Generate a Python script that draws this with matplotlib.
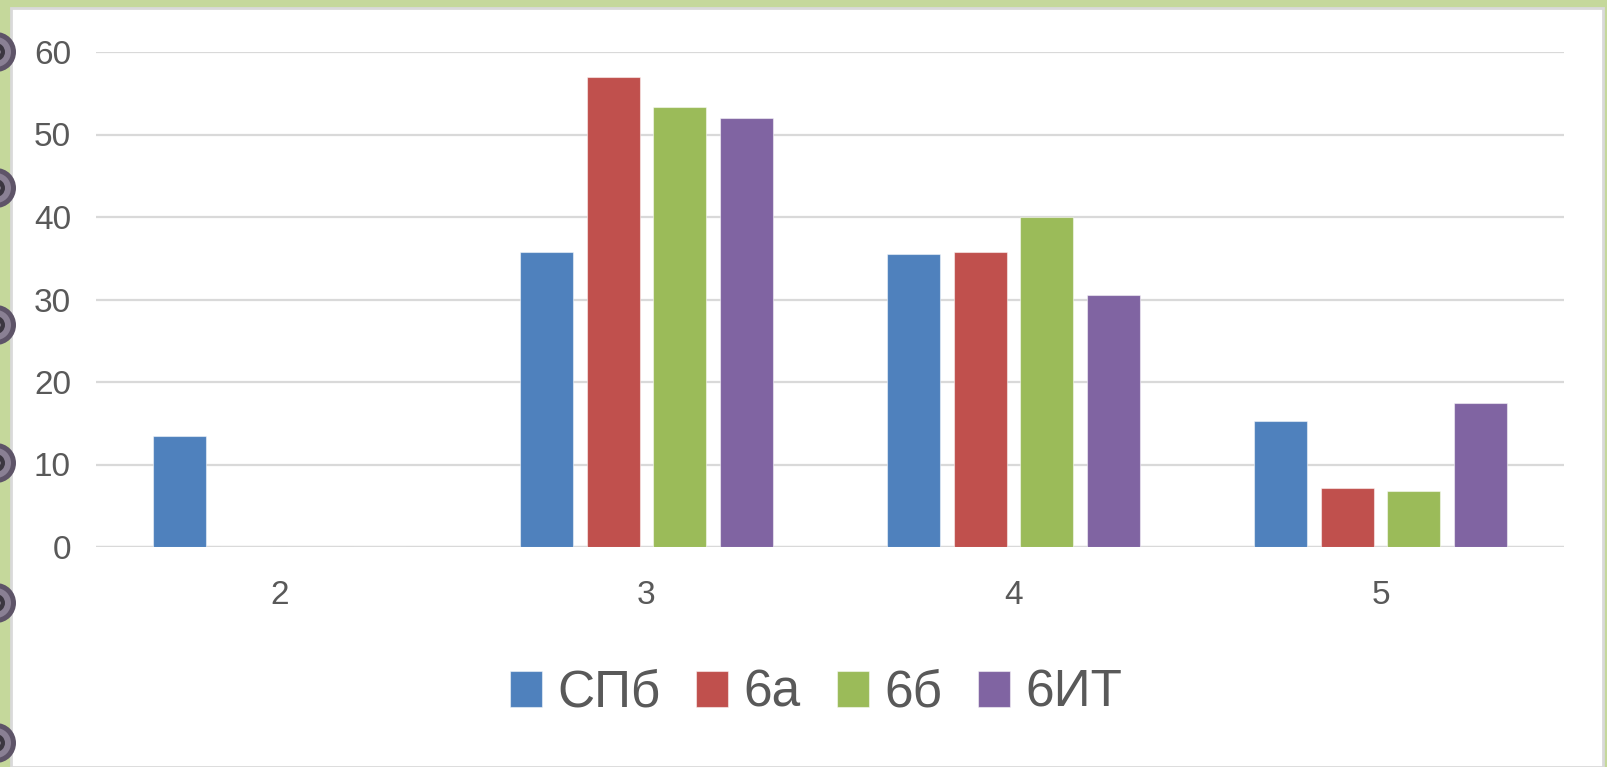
import matplotlib
matplotlib.use('Agg')
import matplotlib.pyplot as plt
from matplotlib.patches import Rectangle, Ellipse
import numpy as np

# data
categories = ['2', '3', '4', '5']
series_names = ['СПб', '6а', '6б', '6ИТ']
spb = [13.4, 35.7, 35.5, 15.3]
k6a = [0, 57.0, 35.7, 7.2]
k6b = [0, 53.3, 40.0, 6.8]
k6it = [0, 52.0, 30.5, 17.4]
colors = ['#4f81bd', '#c0504d', '#9bbb59', '#8064a2']

W, H = 1607, 767
fig = plt.figure(figsize=(W/100, H/100), dpi=100)
fig.patch.set_facecolor('#c5d89b')

# white card behind the chart
card = Rectangle((11/W, 0), (1603-11)/W, (H-8)/H, transform=fig.transFigure,
                 facecolor='white', edgecolor='#d9d9d9', lw=2, zorder=-2)
fig.patches.append(card)

# binder rings on the left edge
for yy in [52, 188, 325, 463, 603, 743]:
    for w, c in [(40, '#5e5468'), (30, '#8a8094'), (18, '#3b3640'), (9, '#b8b0c0')]:
        e = Ellipse((-4/W, 1 - yy/H), w/W, w/H, transform=fig.transFigure,
                    facecolor=c, edgecolor='none', zorder=-1)
        fig.patches.append(e)

ax = fig.add_axes([96/W, 1 - 547/H, (1564-96)/W, (547-52)/H])
ax.set_facecolor('none')

x = np.arange(len(categories))
bw = 0.144
step = 0.182
for i, (vals, name) in enumerate(zip([spb, k6a, k6b, k6it], series_names)):
    ax.bar(x + (i - 1.5)*step, vals, width=bw, color=colors[i], label=name,
           edgecolor=(1, 1, 1, 0.5), linewidth=0.8, zorder=3)

ax.set_xlim(-0.5, len(categories) - 0.5)
ax.set_ylim(0, 60)
ax.set_yticks(range(0, 61, 10))
ax.set_xticks(x)
ax.set_xticklabels(categories)
ax.yaxis.grid(True, color='#d9d9d9', linewidth=1.6, zorder=0)
ax.set_axisbelow(True)
for s in ax.spines.values():
    s.set_visible(False)
ax.axhline(0, color='#d9d9d9', linewidth=1.6, zorder=1)
ax.tick_params(axis='both', length=0, labelsize=24, colors='#595959')
ax.tick_params(axis='y', pad=18)
ax.tick_params(axis='x', pad=24)
for lab in ax.get_xticklabels() + ax.get_yticklabels():
    lab.set_family(['Liberation Sans', 'DejaVu Sans'])

leg = ax.legend(loc='center', bbox_to_anchor=(816/W, 1 - 693/H),
                bbox_transform=fig.transFigure, ncol=4, frameon=False,
                prop={'family': ['Liberation Sans', 'DejaVu Sans'], 'size': 37},
                handlelength=0.62, handleheight=0.7, handletextpad=0.3,
                columnspacing=0.7)
for t in leg.get_texts():
    t.set_color('#595959')

fig.savefig('out.png', dpi=100, facecolor=fig.get_facecolor())
